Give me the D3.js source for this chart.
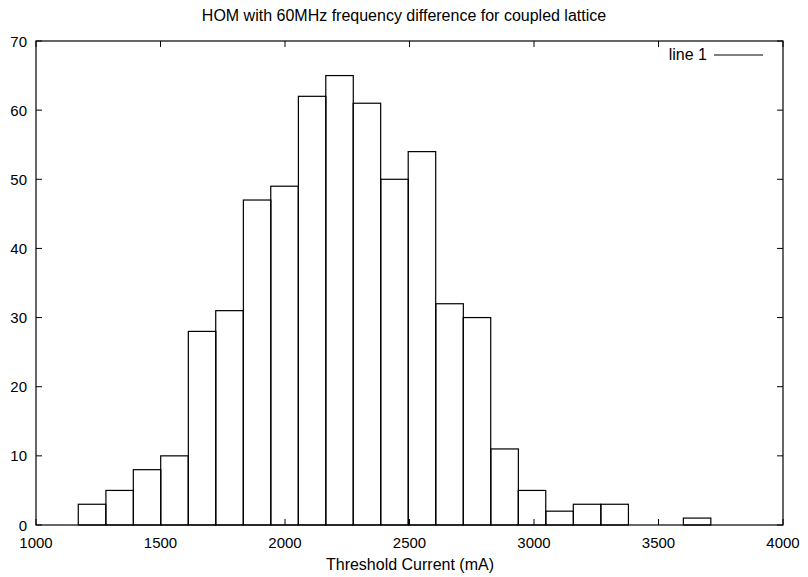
<!DOCTYPE html>
<html>
<head>
<meta charset="utf-8">
<script src="https://cdn.jsdelivr.net/npm/d3@7.9.0/dist/d3.min.js"></script>
<style>
  body { margin: 0; background: #fff; }
  svg text { font-family: "Liberation Sans", Arial, sans-serif; fill: #000; font-size: 16px; }
  svg .tick-label { font-size: 15px; }
</style>
</head>
<body>
<svg id="chart" width="808" height="577"></svg>
<script>
// Histogram bins (centres in mA) and counts
const binCenters = [1225, 1336, 1446, 1556, 1667, 1777, 1888, 1998, 2109, 2219, 2329, 2440,
                    2550, 2661, 2771, 2882, 2992, 3103, 3213, 3324, 3434, 3545, 3655];
const counts = [3, 5, 8, 10, 28, 31, 47, 49, 62, 65, 61, 50,
                54, 32, 30, 11, 5, 2, 3, 3, 0, 0, 1];
const binWidth = 110.4;

const xTicks = [1000, 1500, 2000, 2500, 3000, 3500, 4000];
const yTicks = [0, 10, 20, 30, 40, 50, 60, 70];

const titleText = 'HOM with 60MHz frequency difference for coupled lattice';
const xLabel = 'Threshold Current (mA)';
const legendLabel = 'line 1';

const margin = { top: 41, right: 25, bottom: 52, left: 36 };
const width = 808, height = 577;

const svg = d3.select('#chart');

const x = d3.scaleLinear().domain([1000, 4000]).range([margin.left, width - margin.right]);
const y = d3.scaleLinear().domain([0, 70]).range([height - margin.bottom, margin.top]);

const bins = binCenters.map((c, i) => ({ center: c, count: counts[i] }));

// bars
svg.append('g')
  .selectAll('rect')
  .data(bins)
  .join('rect')
  .attr('x', d => x(d.center - binWidth / 2))
  .attr('y', d => y(d.count))
  .attr('width', d => x(d.center + binWidth / 2) - x(d.center - binWidth / 2))
  .attr('height', d => y(0) - y(d.count))
  .attr('fill', 'none')
  .attr('stroke', '#000')
  .attr('stroke-width', 1.2);

// inward ticks on all four sides (gnuplot style)
const tickLen = 6;
const ticks = svg.append('g').attr('stroke', '#000').attr('stroke-width', 1);
xTicks.forEach(t => {
  ticks.append('line').attr('x1', x(t)).attr('x2', x(t)).attr('y1', y(0)).attr('y2', y(0) - tickLen);
  ticks.append('line').attr('x1', x(t)).attr('x2', x(t)).attr('y1', y(70)).attr('y2', y(70) + tickLen);
});
yTicks.forEach(t => {
  ticks.append('line').attr('x1', x(1000)).attr('x2', x(1000) + tickLen).attr('y1', y(t)).attr('y2', y(t));
  ticks.append('line').attr('x1', x(4000)).attr('x2', x(4000) - tickLen).attr('y1', y(t)).attr('y2', y(t));
});

// frame
svg.append('rect')
  .attr('x', x(1000)).attr('y', y(70))
  .attr('width', x(4000) - x(1000)).attr('height', y(0) - y(70))
  .attr('fill', 'none').attr('stroke', '#000').attr('stroke-width', 1.2);

// tick labels
svg.append('g').selectAll('text')
  .data(xTicks)
  .join('text')
  .attr('class', 'tick-label')
  .attr('x', d => x(d))
  .attr('y', y(0) + 23)
  .attr('text-anchor', 'middle')
  .text(d => d);

svg.append('g').selectAll('text')
  .data(yTicks)
  .join('text')
  .attr('class', 'tick-label')
  .attr('x', x(1000) - 9)
  .attr('y', d => y(d) + 5.5)
  .attr('text-anchor', 'end')
  .text(d => d);

// titles
svg.append('text')
  .attr('x', 404).attr('y', 21)
  .attr('text-anchor', 'middle')
  .text(titleText);

svg.append('text')
  .attr('x', 410).attr('y', 569.5)
  .attr('text-anchor', 'middle')
  .text(xLabel);

// legend
svg.append('text')
  .attr('x', 707).attr('y', 59.5)
  .attr('text-anchor', 'end')
  .text(legendLabel);
svg.append('line')
  .attr('x1', 714).attr('x2', 763).attr('y1', 55).attr('y2', 55)
  .attr('stroke', '#000').attr('stroke-width', 1.2);
</script>
</body>
</html>
